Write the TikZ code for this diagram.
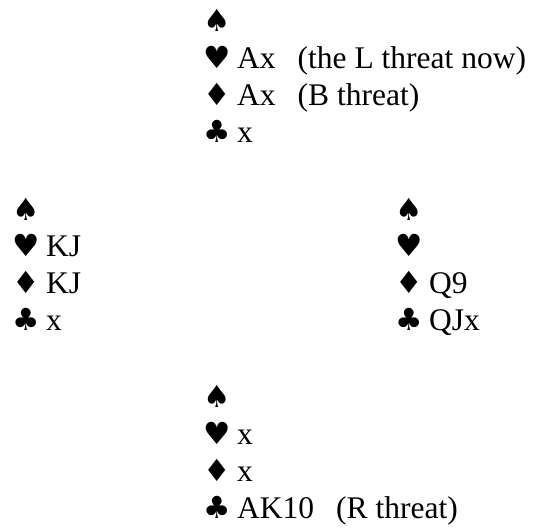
\documentclass[tikz,border=0pt]{standalone}
\usepackage{fontspec}
\setmainfont{Liberation Serif}
\newfontfamily\suitfont[Scale=0.97]{DejaVu Sans}
\usetikzlibrary{positioning}
\newcommand{\suit}[1]{\makebox[34pt][l]{\suitfont\symbol{#1}}}
\newcommand{\spd}{\suit{"2660}}
\newcommand{\hrt}{\suit{"2665}}
\newcommand{\dmd}{\suit{"2666}}
\newcommand{\clb}{\suit{"2663}}
\newcommand{\gap}{\hspace{22pt}}

\begin{document}
\begin{tikzpicture}[
    x=1pt, y=1pt,
    hand/.style={
      inner sep=0pt, align=left, anchor=base west,
      font=\fontsize{31.5}{37}\selectfont,
    },
  ]
    \useasboundingbox (0,0) rectangle (533,-529);

    % anchor base = baseline of the last (club) line
    \node[hand] (north) at (203,-143)
      {\spd\\
       \hrt Ax\gap(the L threat now)\\
       \dmd Ax\gap(B threat)\\
       \clb x};

    \node[hand] (west) at (12,-331)
      {\spd\\
       \hrt KJ\\
       \dmd KJ\\
       \clb x};

    \node[hand] (east) at (395,-331)
      {\spd\\
       \hrt\\
       \dmd Q9\\
       \clb QJx};

    \node[hand] (south) at (203,-518)
      {\spd\\
       \hrt x\\
       \dmd x\\
       \clb AK10\gap(R threat)};
  \end{tikzpicture}
\end{document}
